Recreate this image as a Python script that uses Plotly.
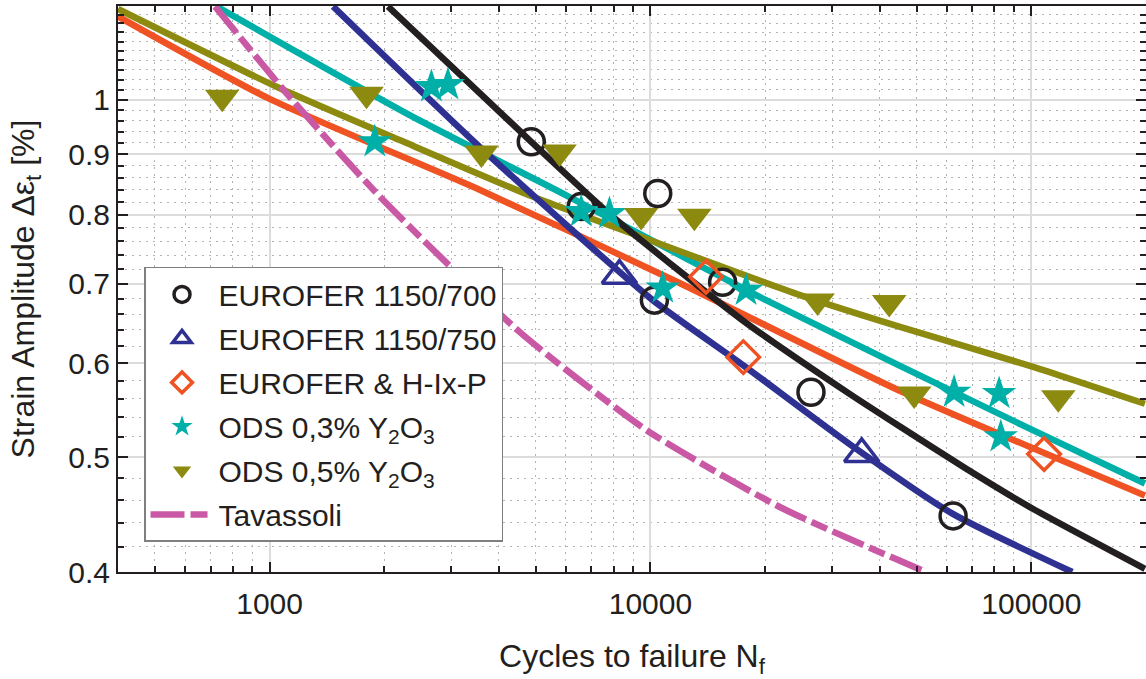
import plotly.graph_objects as go

# ---------------- data ----------------
# measured points: cycles to failure N_f and strain amplitude [%]
c700_N = [4865, 6580, 10450, 10240, 15470, 26390, 62310]
c700_e = [0.922, 0.813, 0.834, 0.678, 0.702, 0.567, 0.446]

c750_N = [8290, 35860]
c750_e = [0.711, 0.503]

hixp_N = [13990, 17530, 108000]
hixp_e = [0.7095, 0.607, 0.503]

ods3_N = [1889, 2660, 2940, 6580, 7806, 10770, 17820, 62690, 82300, 83130]
ods3_e = [0.922, 1.026, 1.030, 0.805, 0.802, 0.694, 0.691, 0.567, 0.5655, 0.520]

ods5_N = [751, 1797, 3598, 5772, 9454, 13040, 27470, 42360, 49250, 117700]
ods5_e = [1.005, 1.011, 0.902, 0.904, 0.799, 0.798, 0.677, 0.675, 0.565, 0.561]

# fitted curves
fit700_N = [2046, 4865, 7960, 17460, 33250, 44980, 67300, 100600, 198700]
fit700_e = [1.199, 0.922, 0.797, 0.652, 0.5655, 0.531, 0.489, 0.4525, 0.4025]

fit750_N = [1468, 3560, 10140, 17460, 33250, 62060, 128100]
fit750_e = [1.199, 0.913, 0.678, 0.598, 0.513, 0.448, 0.400]

fithixp_N = [400, 1000, 3560, 11920, 44980, 198700]
fithixp_e = [1.176, 1.002, 0.840, 0.701, 0.569, 0.464]

fitods3_N = [726, 2333, 6010, 20110, 100600, 198700]
fitods3_e = [1.199, 0.971, 0.831, 0.678, 0.527, 0.475]

fitods5_N = [400, 1043, 2196, 4903, 9940, 24590, 44980, 100600, 198700]
fitods5_e = [1.193, 1.026, 0.925, 0.829, 0.762, 0.685, 0.644, 0.596, 0.5545]

tav_N = [719, 1108, 1947, 4532, 9744, 21790, 52860]
tav_e = [1.199, 1.013, 0.829, 0.6375, 0.527, 0.454, 0.400]

x_major = [1000, 10000, 100000]
x_major_text = ["1000", "10000", "100000"]
y_major = [0.4, 0.5, 0.6, 0.7, 0.8, 0.9, 1.0]
y_major_text = ["0.4", "0.5", "0.6", "0.7", "0.8", "0.9", "1"]

# ---------------- styling ----------------
BLACK = "#231F20"
BLUE = "#2E3192"
ORANGE = "#EF5323"
TEAL = "#00B0A8"
OLIVE = "#8C8A0F"
MAGENTA = "#CA59A5"
FONT = "Liberation Sans, Arial, Helvetica, sans-serif"
LW = 6.5

x_minor = [m * d for d in (100, 1000, 10000) for m in range(2, 10)] + [200000]
x_minor = [v for v in x_minor if v >= 400]
y_minor = [round(0.40 + 0.02 * i, 2) for i in range(0, 41)]
y_minor = [v for v in y_minor if v not in y_major]

fig = go.Figure()

# fit lines
for n, e, col in [(fithixp_N, fithixp_e, ORANGE), (fitods3_N, fitods3_e, TEAL),
                  (fitods5_N, fitods5_e, OLIVE), (fit750_N, fit750_e, BLUE),
                  (fit700_N, fit700_e, BLACK)]:
    fig.add_trace(go.Scatter(x=n, y=e, mode="lines", showlegend=False,
                             line=dict(color=col, width=LW, shape="spline", smoothing=0.6),
                             hoverinfo="skip"))

# measured points
fig.add_trace(go.Scatter(x=c700_N, y=c700_e, mode="markers", name="EUROFER 1150/700",
                         legendgroup="g1",
                         marker=dict(symbol="circle-open", size=26, color=BLACK,
                                     line=dict(width=3.5, color=BLACK))))
fig.add_trace(go.Scatter(x=c750_N, y=c750_e, mode="markers", name="EUROFER 1150/750",
                         legendgroup="g2",
                         marker=dict(symbol="triangle-up-open", size=30, color=BLUE,
                                     line=dict(width=3.5, color=BLUE))))
fig.add_trace(go.Scatter(x=hixp_N, y=hixp_e, mode="markers", name="EUROFER & H-Ix-P",
                         legendgroup="g3",
                         marker=dict(symbol="diamond-open", size=25, color=ORANGE,
                                     line=dict(width=3.5, color=ORANGE))))
fig.add_trace(go.Scatter(x=ods3_N, y=ods3_e, mode="markers",
                         name="ODS 0,3% Y<sub>2</sub>O<sub>3</sub>", legendgroup="g4",
                         marker=dict(symbol="star", size=26, color=TEAL, line=dict(width=0))))
fig.add_trace(go.Scatter(x=ods5_N, y=ods5_e, mode="markers",
                         name="ODS 0,5% Y<sub>2</sub>O<sub>3</sub>", legendgroup="g5",
                         marker=dict(symbol="triangle-down", size=30, color=OLIVE, line=dict(width=0))))
fig.add_trace(go.Scatter(x=tav_N, y=tav_e, mode="lines", name="Tavassoli", legendgroup="g6",
                         line=dict(color=MAGENTA, width=LW, dash="34px,6px,17px,6px",
                                   shape="spline", smoothing=0.6)))

axis_common = dict(
    type="log", showline=True, linewidth=2, linecolor=BLACK, mirror="allticks",
    ticks="inside", ticklen=10, tickwidth=2, tickcolor=BLACK,
    showgrid=True, gridcolor="#DCDCDC", gridwidth=1.5, zeroline=False,
    tickfont=dict(family=FONT, size=30, color=BLACK),
)

fig.update_xaxes(**axis_common, range=[2.60206, 5.30103],
                 tickmode="array", tickvals=x_major, ticktext=x_major_text,
                 minor=dict(tickmode="array", tickvals=x_minor, ticks="inside", ticklen=6,
                            tickwidth=1.5, tickcolor=BLACK, showgrid=True,
                            gridcolor="#B4B4B4", gridwidth=1.2, griddash="2px,5px"),
                 title=dict(text="Cycles to failure N<sub>f</sub>",
                            font=dict(family=FONT, size=32, color=BLACK), standoff=31),
                 ticklabelstandoff=4)
fig.update_yaxes(**axis_common, range=[-0.39794, 0.07918],
                 tickmode="array", tickvals=y_major, ticktext=y_major_text,
                 minor=dict(tickmode="array", tickvals=y_minor, ticks="inside", ticklen=6,
                            tickwidth=1.5, tickcolor=BLACK, showgrid=True,
                            gridcolor="#B4B4B4", gridwidth=1.2, griddash="2px,5px"),
                 title=dict(text="Strain Amplitude Δε<sub>t</sub> [%]",
                            font=dict(family=FONT, size=32, color=BLACK), standoff=24),
                 ticklabelstandoff=0)

fig.update_layout(
    width=1146, height=679,
    margin=dict(l=118, r=0, t=6, b=107, autoexpand=False),
    paper_bgcolor="white", plot_bgcolor="white",
    font=dict(family=FONT, size=30, color=BLACK),
    legend=dict(x=0.0253, y=0.539, xanchor="left", yanchor="top",
                bgcolor="white", bordercolor="#7F7F7F", borderwidth=1.5,
                font=dict(family=FONT, size=30, color=BLACK),
                itemwidth=63, tracegroupgap=2),
    showlegend=True,
)

# remove the default 8px page margin so the figure sits at the window origin
fig.write_html("out.html", config={"displayModeBar": False},
               post_script="document.body.style.margin='0px';document.body.style.overflow='hidden';")
